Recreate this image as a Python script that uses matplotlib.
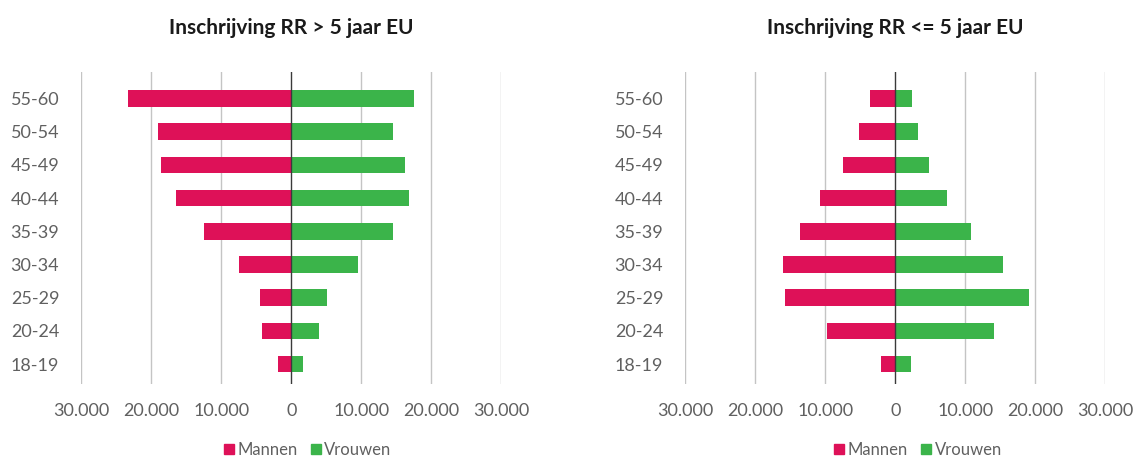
import numpy as np
import matplotlib.pyplot as plt
from matplotlib.patches import Patch

groups = ["18-19", "20-24", "25-29", "30-34", "35-39", "40-44", "45-49", "50-54", "55-60"]

# Inschrijving RR > 5 jaar EU
men_gt5 = [1900, 4200, 4500, 7500, 12500, 16500, 18600, 19100, 23400]
women_gt5 = [1650, 4000, 5150, 9550, 14550, 16850, 16300, 14550, 17500]

# Inschrijving RR <= 5 jaar EU
men_le5 = [2050, 9800, 15800, 16050, 13600, 10800, 7500, 5150, 3650]
women_le5 = [2250, 14100, 19150, 15400, 10800, 7400, 4850, 3250, 2350]

titles = ["Inschrijving RR > 5 jaar EU", "Inschrijving RR <= 5 jaar EU"]
xticks = [-30000, -20000, -10000, 0, 10000, 20000, 30000]
xticklabels = ["30.000", "20.000", "10.000", "0", "10.000", "20.000", "30.000"]

pink = "#DE1158"
green = "#3BB44A"
grey = "#606060"

plt.rcParams['font.family'] = ['Lato', 'DejaVu Sans']

fig = plt.figure(figsize=(11.39, 4.58), dpi=100)
ax1 = fig.add_axes([0.0715, 0.1616, 0.3687, 0.6812])
ax2 = fig.add_axes([0.6018, 0.1616, 0.3687, 0.6812])

y = np.arange(len(groups))
data = [(men_gt5, women_gt5), (men_le5, women_le5)]
for ax, (men, women), title, lx in zip([ax1, ax2], data, titles, [0.27, 0.806]):
    ax.barh(y, -np.array(men), height=0.5, color=pink, zorder=2)
    ax.barh(y, women, height=0.5, color=green, zorder=2)
    ax.set_xlim(-30000, 30000)
    ax.set_ylim(-0.6, 8.8)
    ax.set_xticks(xticks)
    ax.set_xticklabels(xticklabels)
    ax.set_yticks(y)
    ax.set_yticklabels(groups)
    for t in xticks:
        if t == 0:
            ax.axvline(0, color="#3a3a3a", lw=1.0, zorder=3)
        else:
            ax.axvline(t, color="#c4c4c4", lw=1.0, zorder=1)
    for s in ax.spines.values():
        s.set_visible(False)
    ax.tick_params(axis='both', length=0, labelsize=13, labelcolor=grey)
    ax.tick_params(axis='y', pad=16)
    ax.tick_params(axis='x', pad=14)
    ax.set_title(title, fontsize=15, fontweight='bold', color="#1a1a1a", pad=27)
    handles = [Patch(color=pink, label="Mannen"), Patch(color=green, label="Vrouwen")]
    fig.legend(handles=handles, loc='center', bbox_to_anchor=(lx, 0.018), ncol=2,
               frameon=False, handlelength=0.6, handleheight=0.6, handletextpad=0.2,
               columnspacing=0.8, prop={'size': 12}, labelcolor=grey)

fig.savefig("out.png", dpi=100)
